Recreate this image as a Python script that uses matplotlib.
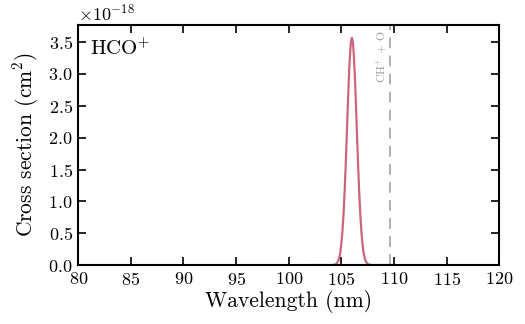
import matplotlib
matplotlib.use("Agg")
import matplotlib.pyplot as plt
from matplotlib.ticker import ScalarFormatter

plt.rcParams['font.family'] = 'serif'
plt.rcParams['font.serif'] = ['cmr10', 'DejaVu Serif']
plt.rcParams['mathtext.fontset'] = 'cm'
plt.rcParams['axes.formatter.use_mathtext'] = True
plt.rcParams['axes.unicode_minus'] = False

# Data
wavelength = [102.0, 104.0, 104.2, 104.4, 104.5, 104.6, 104.7, 104.8, 104.9, 105.0,
              105.1, 105.2, 105.3, 105.4, 105.5, 105.6, 105.7, 105.8, 105.9, 106.0,
              106.1, 106.2, 106.3, 106.4, 106.5, 106.6, 106.7, 106.8, 106.9, 107.0,
              107.1, 107.2, 107.3, 107.4, 107.5, 107.6, 107.8, 108.0, 110.0]
cross_section = [0.0, 0.0, 0.002, 0.008, 0.017, 0.035, 0.066, 0.12, 0.20, 0.34,
                 0.53, 0.79, 1.12, 1.52, 1.98, 2.45, 2.89, 3.25, 3.49, 3.57,
                 3.49, 3.25, 2.89, 2.45, 1.98, 1.52, 1.12, 0.79, 0.53, 0.34,
                 0.20, 0.12, 0.066, 0.035, 0.017, 0.008, 0.002, 0.0, 0.0]
cross_section = [v * 1e-18 for v in cross_section]
threshold_wl = 109.6
threshold_label = r'CH$^{+}$ + O'
species = r'HCO$^{+}$'

fig = plt.figure(figsize=(5.25, 3.24), dpi=100)
ax = fig.add_axes([0.149, 0.182, 0.802, 0.741])

ax.plot(wavelength, cross_section, color='#c8546c', lw=1.6, alpha=0.9)
ax.axvline(threshold_wl, color='#aaaaaa', lw=1.3, ls=(0, (6, 4)))
ax.text(threshold_wl - 0.05, 3.68e-18, threshold_label, rotation=90, ha='right', va='top',
        color='#999999', fontsize=8.5)
ax.text(0.028, 0.945, species, transform=ax.transAxes, ha='left', va='top', fontsize=15)

ax.set_xlim(80, 120)
ax.set_ylim(0, 3.77e-18)
ax.set_xticks([80, 85, 90, 95, 100, 105, 110, 115, 120])
ax.set_yticks([0, 0.5e-18, 1.0e-18, 1.5e-18, 2.0e-18, 2.5e-18, 3.0e-18, 3.5e-18])
fmt = ScalarFormatter(useMathText=True)
fmt.set_powerlimits((-3, 3))
ax.yaxis.set_major_formatter(fmt)
ax.yaxis.get_offset_text().set_fontsize(13)

ax.tick_params(direction='in', top=True, right=True, length=6, width=1.2, labelsize=13, pad=4)
for s in ax.spines.values():
    s.set_linewidth(1.5)

ax.set_xlabel('Wavelength (nm)', fontsize=15.5, labelpad=2)
ax.set_ylabel(r'Cross section (cm$^{2}$)', fontsize=15.5, labelpad=5)

fig.savefig('out.png', dpi=100)
